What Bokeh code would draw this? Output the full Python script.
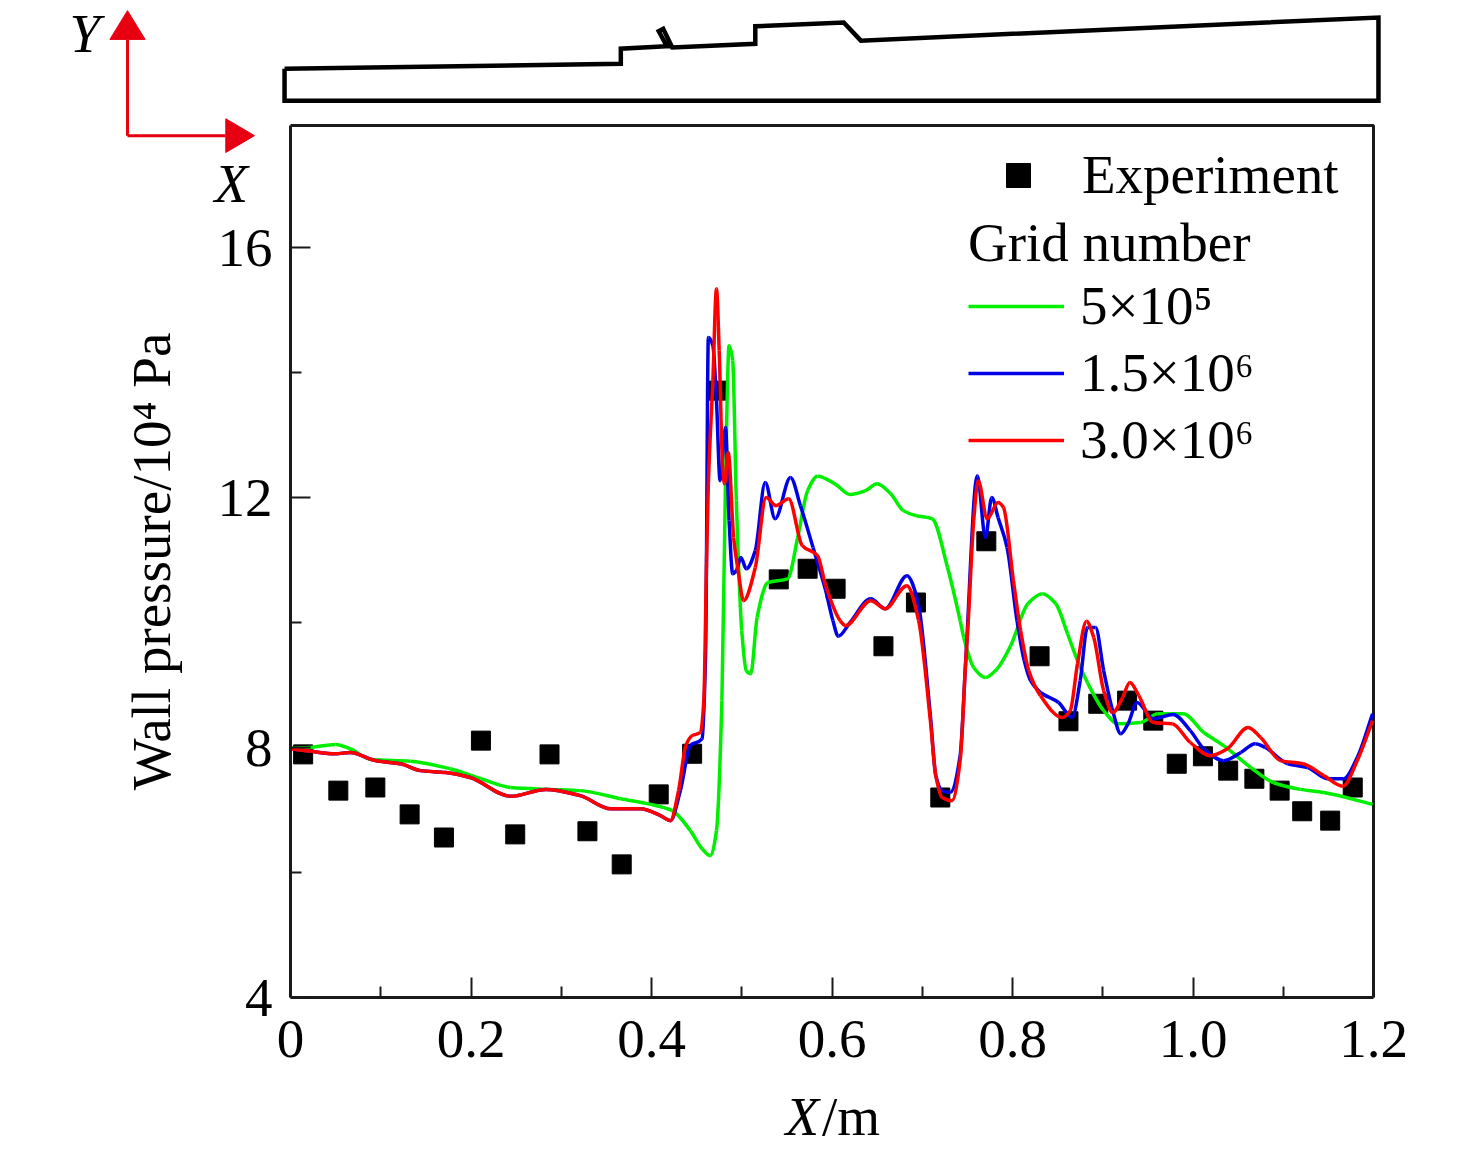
from bokeh.plotting import figure
from bokeh.models import (Label, Legend, LegendItem, FixedTicker)
from bokeh.embed import file_html
from bokeh.resources import INLINE

FONT = "Liberation Serif"

exp_x = [.014,.053,.094,.132,.170,.211,.249,.287,.329,.367,.408,.445,.472,.541,.573,.604,.657,.693,.720,.771,.830,.862,.895,.927,.956,.982,1.011,1.039,1.068,1.096,1.121,1.152,1.177]
exp_y = [7.89,7.31,7.36,6.93,6.56,8.11,6.61,7.89,6.66,6.13,7.25,7.90,13.71,10.69,10.86,10.54,9.62,10.32,7.20,11.30,9.46,8.42,8.70,8.75,8.43,7.74,7.86,7.63,7.50,7.31,6.98,6.83,7.36]

green_x = [0,.022,.050,.066,.089,.133,.177,.211,.244,.288,.321,.366,.399,.423,.443,.456,.465,.472,.478,.482,.486,.490,.494,.500,.505,.510,.517,.529,.551,.562,.573,.584,.604,.620,.637,.650,.665,.679,.693,.711,.728,.742,.746,.757,.770,.783,.798,.817,.833,.848,.861,.872,.883,.901,.917,.942,.961,.989,1.012,1.034,1.064,1.089,1.119,1.145,1.199]
green_y = [7.98,8.00,8.05,7.98,7.81,7.78,7.66,7.50,7.36,7.33,7.31,7.18,7.09,6.99,6.67,6.38,6.27,6.67,8.75,12.27,14.43,14.19,11.95,9.87,9.23,9.18,10.08,10.64,10.70,11.36,12.11,12.34,12.21,12.05,12.11,12.22,12.06,11.79,11.71,11.66,10.88,10.03,9.76,9.28,9.12,9.26,9.63,10.30,10.46,10.30,9.82,9.39,9.04,8.59,8.38,8.40,8.54,8.54,8.24,8.03,7.68,7.44,7.33,7.28,7.09]

blue_x = [0,.022,.050,.066,.094,.122,.144,.172,.199,.244,.283,.321,.355,.388,.410,.421,.432,.443,.456,.460,.463,.468,.472,.476,.482,.486,.490,.494,.499,.505,.515,.526,.537,.554,.565,.579,.593,.601,.607,.620,.643,.659,.683,.695,.709,.715,.722,.731,.742,.748,.761,.770,.777,.784,.794,.805,.813,.820,.831,.851,.866,.875,.883,.892,.901,.911,.920,.928,.938,.956,.978,.997,1.012,1.034,1.053,1.069,1.080,1.105,1.127,1.149,1.167,1.182,1.199]
blue_y = [7.98,7.94,7.90,7.92,7.79,7.74,7.63,7.60,7.52,7.22,7.33,7.23,7.02,7.02,6.91,6.83,7.31,8.03,8.14,9.55,14.56,14.43,13.55,12.27,13.12,11.63,10.78,10.83,11.04,10.86,11.15,12.24,11.66,12.32,11.87,11.20,10.51,10.03,9.78,10.00,10.38,10.22,10.75,10.35,8.51,7.55,7.31,7.28,7.87,9.34,12.35,11.36,12.00,11.68,11.20,10.03,9.39,9.07,8.88,8.72,8.48,9.07,9.92,9.92,9.23,8.59,8.22,8.38,8.72,8.46,8.53,8.27,7.98,7.79,7.92,8.06,8.00,7.74,7.68,7.50,7.50,7.84,8.54]

red_x = [0,.022,.050,.066,.094,.122,.144,.172,.199,.244,.283,.321,.355,.388,.410,.421,.430,.438,.445,.454,.458,.461,.463,.468,.472,.475,.479,.481,.485,.491,.496,.502,.515,.527,.538,.552,.567,.584,.593,.609,.615,.643,.659,.683,.696,.709,.715,.722,.733,.742,.748,.751,.757,.762,.772,.784,.790,.801,.809,.818,.831,.855,.864,.872,.882,.890,.901,.911,.922,.930,.940,.956,.977,.997,1.019,1.038,1.061,1.075,1.097,1.122,1.145,1.166,1.182,1.199]
red_y = [7.98,7.94,7.90,7.92,7.79,7.74,7.63,7.60,7.52,7.22,7.33,7.23,7.02,7.02,6.91,6.83,7.31,8.03,8.19,8.24,8.75,10.99,12.22,13.87,15.34,14.35,12.43,12.22,12.72,11.36,10.83,10.35,10.88,12.00,11.87,11.98,11.23,11.07,10.59,10.03,9.95,10.35,10.22,10.59,10.03,8.43,7.55,7.20,7.15,7.79,9.34,10.03,11.63,12.27,11.66,11.92,11.84,10.67,9.87,9.23,8.83,8.48,8.59,9.34,10.02,9.76,8.91,8.56,8.80,9.04,8.83,8.40,8.38,8.08,7.87,7.98,8.32,8.16,7.79,7.74,7.55,7.38,7.79,8.43]

shape_x = [-.0066,.366,.366,.417,.408,.413,.423,.515,.515,.613,.632,1.2055,1.2055,-.0066,-.0066]
shape_y = [18.86,18.94,19.18,19.22,19.46,19.50,19.20,19.26,19.54,19.60,19.31,19.68,18.35,18.35,18.86]

x_ticks = [0,.2,.4,.6,.8,1.0,1.2]
x_tick_labels = ["0","0.2","0.4","0.6","0.8","1.0","1.2"]
x_minor = [.1,.3,.5,.7,.9,1.1]
y_ticks = [4,8,12,16]
y_minor = [6,10,14]
series_names = ["5×10⁵","1.5×10⁶","3.0×10⁶"]

TOP = 17.952
W, H = 1476, 1153
p = figure(width=W, height=H, x_range=(-290/902.5, (W-290)/902.5), y_range=(4-(H-997)/62.5, 4+997/62.5),
           output_backend="svg", toolbar_location=None,
           min_border_left=0, min_border_top=0, min_border_right=0, min_border_bottom=0)
p.grid.visible = False
p.outline_line_color = None

INK = "#1a1a1a"
for ax in (p.xaxis[0], p.yaxis[0]):
    ax.major_label_text_font = FONT
    ax.major_label_text_font_size = "55px"
    ax.major_label_text_color = "black"
    ax.axis_line_width = 3
    ax.axis_line_color = INK
    ax.major_tick_line_width = 2
    ax.minor_tick_line_width = 2
    ax.major_tick_line_color = INK
    ax.minor_tick_line_color = INK
    ax.major_tick_in = 20
    ax.major_tick_out = 0
    ax.minor_tick_in = 11
    ax.minor_tick_out = 0

xa, ya = p.xaxis[0], p.yaxis[0]
xa.fixed_location = 4
ya.fixed_location = 0
xa.bounds = (0, 1.2)
ya.bounds = (4, TOP)
xa.ticker = FixedTicker(ticks=x_ticks, minor_ticks=x_minor)
ya.ticker = FixedTicker(ticks=y_ticks, minor_ticks=y_minor)
xa.major_label_overrides = {t: l for t, l in zip(x_ticks, x_tick_labels)}
xa.major_label_standoff = 23
ya.major_label_standoff = 18
ya.major_label_orientation = "horizontal"
ya.axis_label = "Wall pressure/10⁴ Pa"
ya.axis_label_text_font = FONT
ya.axis_label_text_font_style = "normal"
ya.axis_label_text_font_size = "55px"
ya.axis_label_text_color = "black"
ya.axis_label_standoff = 33

# remaining frame edges
p.line([0, 1.2, 1.2], [TOP, TOP, 4], line_color=INK, line_width=3)

sq = p.scatter(exp_x, exp_y, marker="square", size=19, color="black")


def slopes(xs, ys):
    """Shape-preserving tangents, so that the read values are joined smoothly without overshoot."""
    n = len(xs)
    h = [xs[i+1]-xs[i] for i in range(n-1)]
    d = [(ys[i+1]-ys[i])/h[i] for i in range(n-1)]
    m = [d[0]] + [0.0]*(n-2) + [d[-1]]
    for i in range(1, n-1):
        if d[i-1]*d[i] > 0:
            w1, w2 = 2*h[i]+h[i-1], h[i]+2*h[i-1]
            m[i] = (w1+w2)/(w1/d[i-1]+w2/d[i])
    return h, m


def curve(xs, ys, color):
    h, m = slopes(xs, ys)
    p.bezier(xs[:-1], ys[:-1], xs[1:], ys[1:],
             [x+hi/3 for x, hi in zip(xs, h)], [y+mi*hi/3 for y, mi, hi in zip(ys, m, h)],
             [x-hi/3 for x, hi in zip(xs[1:], h)], [y-mi*hi/3 for y, mi, hi in zip(ys[1:], m[1:], h)],
             line_color=color, line_width=3.5)
    # carries the legend entry; it lies on the curve's first segment
    return p.line(xs[:2], ys[:2], line_color=color, line_width=3.5)


g = curve(green_x, green_y, "#00ee00")
b = curve(blue_x, blue_y, "#0000e6")
r = curve(red_x, red_y, "#ff0000")

common = dict(border_line_color=None, background_fill_alpha=0, padding=0, margin=0,
              label_text_font=FONT, label_text_font_size="55px", label_text_color="black",
              glyph_width=96, glyph_height=60, label_standoff=16, spacing=4)
leg1 = Legend(items=[LegendItem(label="Experiment", renderers=[sq])], location=(970, 947), **common)
leg2 = Legend(items=[LegendItem(label=n, renderers=[x]) for n, x in zip(series_names, (g, b, r))],
              title="Grid number", title_text_font=FONT, title_text_font_size="55px",
              title_text_font_style="normal", title_text_color="black", title_standoff=0,
              location=(968, 682), **common)
p.add_layout(leg1)
p.add_layout(leg2)

# model outline above the plot
p.line(shape_x, shape_y, line_color="black", line_width=4.5, line_join="miter")

# coordinate arrows
RED = "#e60012"
px, py = -.1806, 17.79
p.line([px, px], [py, 19.33], line_color=RED, line_width=3)
p.line([px, -.072], [py, py], line_color=RED, line_width=3)
p.patch([px-.0195, px+.0195, px], [19.33, 19.33, 19.79], color=RED)
p.patch([-.0717, -.0717, -.0399], [py+.27, py-.27, py], color=RED)


def lab(x, y, text, style="normal"):
    p.add_layout(Label(x=x, y=y, text=text, text_font=FONT, text_font_size="55px",
                       text_font_style=style, text_color="black", text_align="left",
                       text_baseline="alphabetic"))


lab(-.2448, 19.42, "Y", "italic")
lab(-.0842, 17.03, "X", "italic")
lab(.5485, 2.09, "X", "italic")
lab(.589, 2.09, "/m")

open("out.html", "w").write(file_html(p, INLINE))
